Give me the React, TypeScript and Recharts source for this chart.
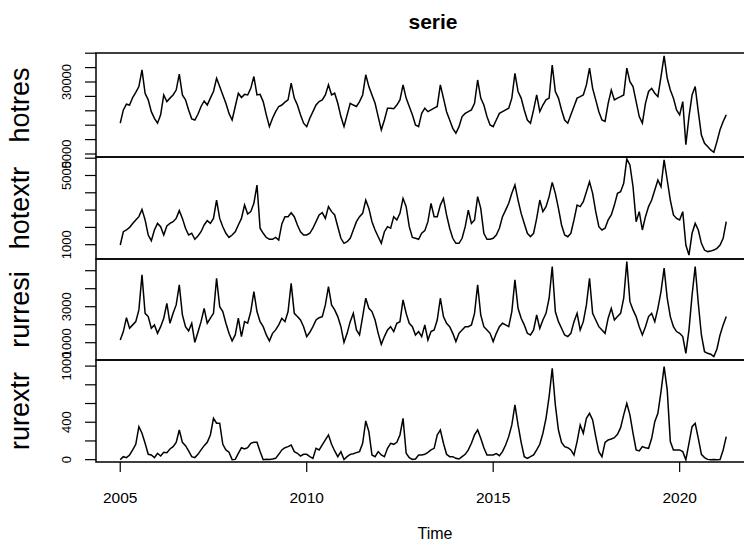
import React from 'react';
import { LineChart, Line, XAxis, YAxis, ReferenceArea } from 'recharts';

// monthly series, Jan 2005 .. Apr 2021
const START_YEAR = 2005;

const hotres = [
  15700, 20300, 22300, 22000, 24600, 26400, 28400, 34200, 26100, 23800, 19700, 17400,
  15700, 18600, 25500, 23200, 24400, 25500, 27200, 32700, 25500, 23800, 20300, 17200,
  16800, 18800, 21500, 23400, 22000, 24400, 26700, 31300, 28400, 25500, 22600, 19100,
  16800, 21500, 26100, 24600, 25700, 25500, 27800, 31900, 25500, 25700, 23200, 18600,
  14500, 17400, 19700, 21500, 22000, 23000, 23800, 29600, 24400, 22000, 18600, 15700,
  14500, 17400, 19700, 22000, 23200, 23800, 25500, 29000, 25500, 26100, 22600, 18000,
  14500, 18600, 22600, 22000, 21500, 23200, 25500, 32500, 28400, 25500, 22600, 18000,
  13400, 16800, 20900, 20900, 20700, 22000, 23800, 29000, 24400, 21500, 18600, 15100,
  14500, 19100, 20900, 19700, 20300, 20900, 21500, 29000, 24400, 19700, 16800, 13900,
  12200, 14500, 18000, 19100, 19700, 20300, 22600, 30700, 24400, 22000, 18000, 15100,
  14500, 16800, 19100, 19700, 20300, 20900, 24400, 33000, 26700, 24400, 20300, 16800,
  15700, 20300, 25500, 19700, 22000, 23800, 24400, 35900, 26700, 24400, 20300, 16800,
  15700, 18600, 21500, 24400, 24900, 25500, 29000, 34800, 27800, 23800, 19700, 16800,
  16300, 22600, 27200, 23800, 24400, 24900, 25500, 34800, 30100, 28400, 23200, 18000,
  15700, 22600, 26700, 27800, 26100, 24900, 31900, 39050, 31300, 27200, 24400, 20300,
  18600, 23200, 8200, 18000, 25500, 28400, 19700, 11600, 8700, 7600, 6400, 5600,
  9300, 13400, 16300, 18600,
];

const hotextr = [
  980, 1750, 1850, 2000, 2230, 2430, 2620, 3040, 2430, 1560, 1230, 1850,
  2230, 2040, 1560, 2080, 2230, 2330, 2520, 2970, 2520, 1950, 1560, 1660,
  1310, 1500, 1750, 2140, 2390, 2230, 2520, 3580, 2520, 2040, 1660, 1420,
  1560, 1750, 2140, 2520, 3290, 2770, 2910, 3390, 4450, 1950, 1660, 1420,
  1310, 1310, 1420, 1270, 2200, 2620, 2620, 2850, 2620, 2140, 1750, 1560,
  1560, 1660, 1950, 2330, 2720, 2850, 2520, 3200, 2910, 2720, 2040, 1370,
  1080, 1170, 1370, 1850, 2330, 2620, 2810, 3580, 3100, 2330, 1850, 1460,
  1080, 1750, 2040, 1950, 2620, 2430, 2810, 3680, 3200, 2040, 1420, 1370,
  1310, 1660, 1810, 2330, 3390, 2620, 2620, 3290, 3680, 2720, 1950, 1370,
  1080, 1080, 1370, 2040, 3000, 2230, 2430, 3780, 3100, 1660, 1310, 1310,
  1370, 1560, 1950, 2620, 3000, 3390, 3970, 4450, 3580, 2810, 2230, 1660,
  1460, 1660, 2520, 3580, 2910, 3200, 3780, 4600, 3970, 3100, 2140, 1560,
  1460, 1660, 2430, 3290, 3200, 3490, 4060, 4640, 3970, 2910, 2040, 1850,
  1950, 2430, 2720, 3290, 3970, 4060, 4550, 5950, 5610, 4350, 2330, 2910,
  1850, 2620, 3200, 3580, 4160, 4740, 4350, 5900, 4740, 3580, 2720, 2520,
  2430, 2910, 980, 400, 1660, 2230, 1850, 1080, 690, 600, 630, 690,
  790, 980, 1370, 2330,
];

const rurresi = [
  1150, 1620, 2390, 1800, 1990, 2170, 2820, 4770, 2630, 2450, 1800, 1990,
  1520, 1890, 2360, 3190, 2080, 2630, 3100, 4210, 2540, 1890, 1650, 2080,
  1020, 1580, 2170, 2910, 2080, 2360, 2630, 4580, 3000, 2730, 2080, 1520,
  1100, 1430, 2360, 1340, 2170, 2080, 2730, 3840, 2730, 2170, 1890, 1430,
  1100, 1520, 1710, 1990, 2360, 2170, 2730, 4300, 2630, 2450, 2260, 1890,
  1340, 1580, 1890, 2260, 2390, 2450, 3100, 4120, 3100, 2820, 2450, 1890,
  1020, 1520, 2170, 2630, 1710, 1430, 2450, 3470, 2910, 2730, 2260, 1520,
  910, 1340, 1710, 1890, 1620, 2080, 2170, 3380, 2630, 2080, 1890, 1430,
  1620, 1340, 1990, 1150, 1620, 1710, 2260, 3470, 2450, 2080, 1890, 1520,
  1060, 1520, 1710, 1890, 1890, 1990, 2630, 4210, 2540, 1890, 1710, 1520,
  1060, 1520, 1890, 2080, 1990, 1890, 2730, 4490, 2910, 2360, 1990, 1520,
  1430, 1710, 2540, 1800, 2260, 2630, 3470, 5230, 2730, 2170, 1800, 1430,
  1340, 1520, 2170, 2630, 1710, 2170, 3100, 4580, 2630, 2260, 1890, 1710,
  1520, 2360, 2910, 2260, 2450, 2630, 3470, 5510, 3280, 2820, 2450, 1890,
  1430, 1890, 2450, 2630, 2170, 2910, 3840, 5140, 3470, 2450, 1890, 1620,
  1520, 1340, 410, 1710, 3650, 5230, 3190, 1430, 500, 410, 360, 230,
  650, 1430, 1990, 2450,
];

const rurextr = [
  0, 32, 22, 50, 104, 164, 353, 282, 175, 57, 50, 22,
  68, 39, 79, 75, 114, 139, 185, 317, 185, 150, 93, 32,
  22, 57, 104, 150, 185, 264, 442, 389, 389, 164, 104, 79,
  0, 3, 68, 128, 114, 128, 175, 185, 185, 86, 0, 4,
  2, 7, 14, 57, 104, 128, 139, 157, 86, 68, 39, 57,
  57, 32, 14, 121, 104, 157, 211, 264, 164, 93, 32, 86,
  2, 32, 57, 64, 75, 86, 175, 414, 300, 50, 32, 86,
  50, 32, 121, 175, 164, 185, 264, 442, 68, 22, 2, 7,
  50, 50, 57, 79, 104, 121, 264, 317, 175, 57, 32, 32,
  14, 7, 32, 57, 104, 175, 264, 317, 228, 128, 50, 50,
  50, 64, 43, 86, 157, 246, 371, 585, 371, 185, 32, 14,
  32, 50, 104, 164, 282, 442, 674, 976, 585, 317, 185, 139,
  128, 104, 50, 193, 371, 282, 442, 495, 424, 246, 86, 32,
  185, 211, 221, 235, 271, 342, 478, 602, 478, 282, 104, 93,
  139, 128, 121, 228, 406, 495, 727, 994, 745, 193, 104, 104,
  104, 86, 0, 175, 353, 389, 228, 57, 22, 3, 0, 2,
  0, 2, 104, 246,
];

const yearTicks = [2005, 2010, 2015, 2020];

const rows = hotres.map((v, i) => ({
  t: START_YEAR + i / 12,
  hotres: v,
  hotextr: hotextr[i],
  rurresi: rurresi[i],
  rurextr: rurextr[i],
}));

const W = 790;
const H = 543;
const FONT = "'Liberation Sans', Arial, sans-serif";
const X_DOMAIN = [2004.35, 2022.53];
const AXIS_H = 45;

const panels = [
  { key: 'hotres', top: 53, bottom: 157, domain: [3958, 40067],
    ticks: [5000, 10000, 15000, 20000, 25000, 30000, 35000, 40000], shown: [5000, 30000] },
  { key: 'hotextr', top: 157, bottom: 259, domain: [173, 6069],
    ticks: [1000, 2000, 3000, 4000, 5000, 6000], shown: [1000, 5000] },
  { key: 'rurresi', top: 259, bottom: 360, domain: [39, 5650],
    ticks: [1000, 2000, 3000, 4000, 5000], shown: [1000, 3000] },
  { key: 'rurextr', top: 360, bottom: 462, domain: [-25, 1065],
    ticks: [0, 200, 400, 600, 800, 1000], shown: [0, 400, 1000] },
];

const YTick = (props: any) => {
  const { y, payload, shown } = props;
  if (!shown.includes(payload.value)) return <g />;
  return (
    <text transform={`translate(71, ${y}) rotate(-90)`} textAnchor="middle"
      fontSize={13} fontFamily={FONT} fill="#000">
      {payload.value}
    </text>
  );
};

const XTick = (props: any) => (
  <text x={props.x} y={503} textAnchor="middle" fontSize={15.5} fontFamily={FONT} fill="#000">
    {props.payload.value}
  </text>
);

const NameLabel = (props: any) => (
  <text transform={`translate(29, ${props.cy}) rotate(-90)`} textAnchor="middle"
    fontSize={27} fontFamily={FONT} fill="#000">
    {props.text}
  </text>
);

export default function App() {
  return (
    <div style={{ position: 'absolute', left: 0, top: 0, width: 744, height: 543, overflow: 'hidden', background: '#fff' }}>
      <svg width={744} height={543} style={{ position: 'absolute', left: 0, top: 0 }}>
        <text x={433} y={29} textAnchor="middle" fontSize={21} fontWeight="bold" fontFamily={FONT}>serie</text>
        <text x={435} y={539} textAnchor="middle" fontSize={16} fontFamily={FONT}>Time</text>
      </svg>
      {panels.map((p, idx) => {
        const last = idx === panels.length - 1;
        return (
          <div key={p.key} style={{ position: 'absolute', left: 0, top: 0 }}>
            <LineChart width={W} height={H} data={rows}
              margin={{ top: p.top, right: 16, left: 0, bottom: H - p.bottom - (last ? AXIS_H : 0) }}>
              <XAxis dataKey="t" type="number" domain={X_DOMAIN} ticks={yearTicks} interval={0}
                hide={!last} height={AXIS_H} axisLine={false} tickSize={10}
                tickLine={{ stroke: '#000', strokeWidth: 1.2 }} tick={<XTick />} />
              <YAxis type="number" domain={p.domain} ticks={p.ticks} interval={0} width={96}
                axisLine={false} tickSize={11} tickLine={{ stroke: '#000', strokeWidth: 1.2 }}
                tick={<YTick shown={p.shown} />}
                label={<NameLabel text={p.key} cy={(p.top + p.bottom) / 2} />} />
              <ReferenceArea x1={X_DOMAIN[0]} x2={X_DOMAIN[1]} y1={p.domain[0]} y2={p.domain[1]}
                fill="none" stroke="#000" strokeWidth={1.5} ifOverflow="visible" />
              <Line type="linear" dataKey={p.key} stroke="#000" strokeWidth={1.5}
                dot={false} isAnimationActive={false} />
            </LineChart>
          </div>
        );
      })}
    </div>
  );
}
